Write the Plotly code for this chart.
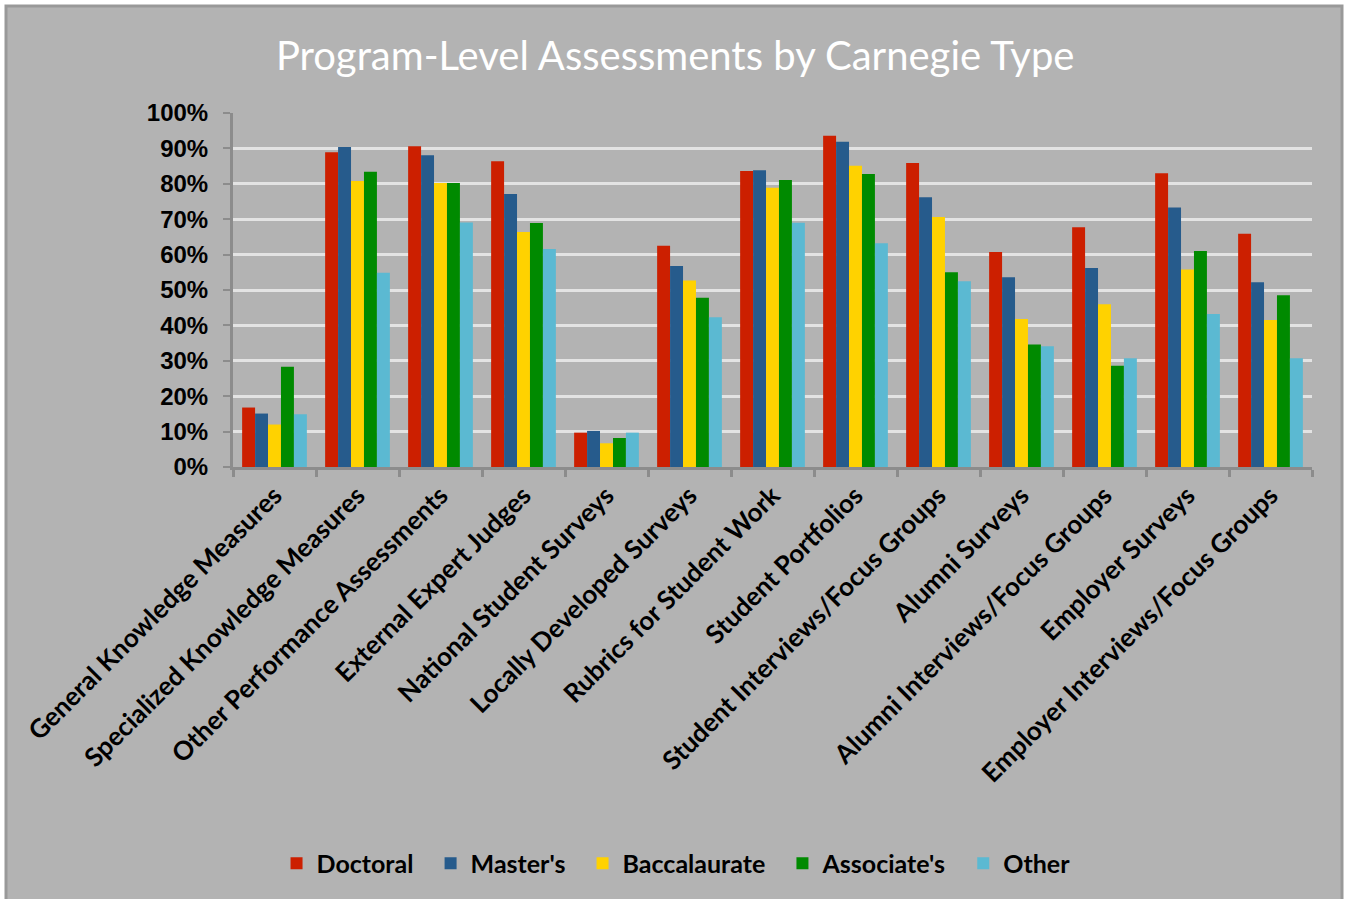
import plotly.graph_objects as go

categorias = [
    "General Knowledge Measures",
    "Specialized Knowledge Measures",
    "Other Performance Assessments",
    "External Expert Judges",
    "National Student Surveys",
    "Locally Developed Surveys",
    "Rubrics for Student Work",
    "Student Portfolios",
    "Student Interviews/Focus Groups",
    "Alumni Surveys",
    "Alumni Interviews/Focus Groups",
    "Employer Surveys",
    "Employer Interviews/Focus Groups",
]

doctoral = [16.8, 88.9, 90.6, 86.4, 9.7, 62.5, 83.6, 93.6, 85.9, 60.7, 67.7, 83.0, 65.9]
masters = [15.1, 90.4, 88.1, 77.1, 10.2, 56.8, 83.8, 91.9, 76.2, 53.6, 56.2, 73.3, 52.2]
baccalaureate = [12.0, 80.8, 80.2, 66.4, 6.7, 52.7, 78.9, 85.1, 70.6, 41.8, 46.0, 55.8, 41.5]
associates = [28.3, 83.4, 80.2, 68.9, 8.2, 47.8, 81.1, 82.8, 55.0, 34.6, 28.6, 61.0, 48.5]
other = [14.9, 54.9, 69.1, 61.6, 9.7, 42.3, 69.0, 63.2, 52.5, 34.1, 30.7, 43.2, 30.7]

series = [
    ("Doctoral", doctoral, "#CC1F00"),
    ("Master's", masters, "#265B8C"),
    ("Baccalaurate", baccalaureate, "#FFD200"),
    ("Associate's", associates, "#008A00"),
    ("Other", other, "#5BB9D2"),
]

fig = go.Figure()
for nome, valores, cor in series:
    # espaços no fim para afastar os itens da legenda
    fig.add_trace(go.Bar(x=categorias, y=[v / 100 for v in valores], name=nome + "\u00a0\u00a0",
                         marker_color=cor, marker_line_width=0))

fig.update_layout(
    width=1345, height=899,
    paper_bgcolor="white", plot_bgcolor="#B3B3B3",
    margin=dict(l=233, r=33, t=113, b=432),
    barmode="group", bargap=0.22, bargroupgap=0,
    font=dict(family="Liberation Sans, Arial", color="black"),
    title=dict(text="Program-Level Assessments by Carnegie Type", x=0.502, xanchor="center",
               y=0.938, yanchor="middle",
               font=dict(family="Lato", size=40, color="white")),
    legend=dict(orientation="h", x=0.4157, xanchor="center", y=-1.12, yanchor="middle",
                font=dict(family="Lato", size=25, color="black", weight="bold"),
                bgcolor="rgba(0,0,0,0)", itemwidth=30, traceorder="normal"),
)
fig.update_yaxes(range=[0, 1.0], tickformat=".0%", dtick=0.1,
                 showgrid=True, gridcolor="#E3E3E3", gridwidth=3,
                 showline=True, linecolor="#8C8C8C", linewidth=3,
                 ticks="outside", ticklen=7, tickcolor="#8C8C8C", tickwidth=2,
                 ticklabelstandoff=10,
                 tickfont=dict(size=24, weight="bold"), zeroline=False)
fig.update_xaxes(tickangle=-45, showline=True, linecolor="#8C8C8C", linewidth=3,
                 ticks="outside", tickson="boundaries", ticklen=7, tickcolor="#8C8C8C",
                 tickwidth=3, tickfont=dict(family="Lato", size=26, weight="bold"))

# painel cinza com moldura
fig.add_shape(type="rect", xref="paper", yref="paper",
              x0=(6 - 233) / 1079, x1=(1342 - 233) / 1079,
              y0=(467 - 905) / 354, y1=(467 - 6) / 354,
              fillcolor="#B3B3B3",
              line=dict(color="#999999", width=3), layer="below")

fig.write_html("out.html", config={"displayModeBar": False},
               post_script="document.body.style.margin='0';")
